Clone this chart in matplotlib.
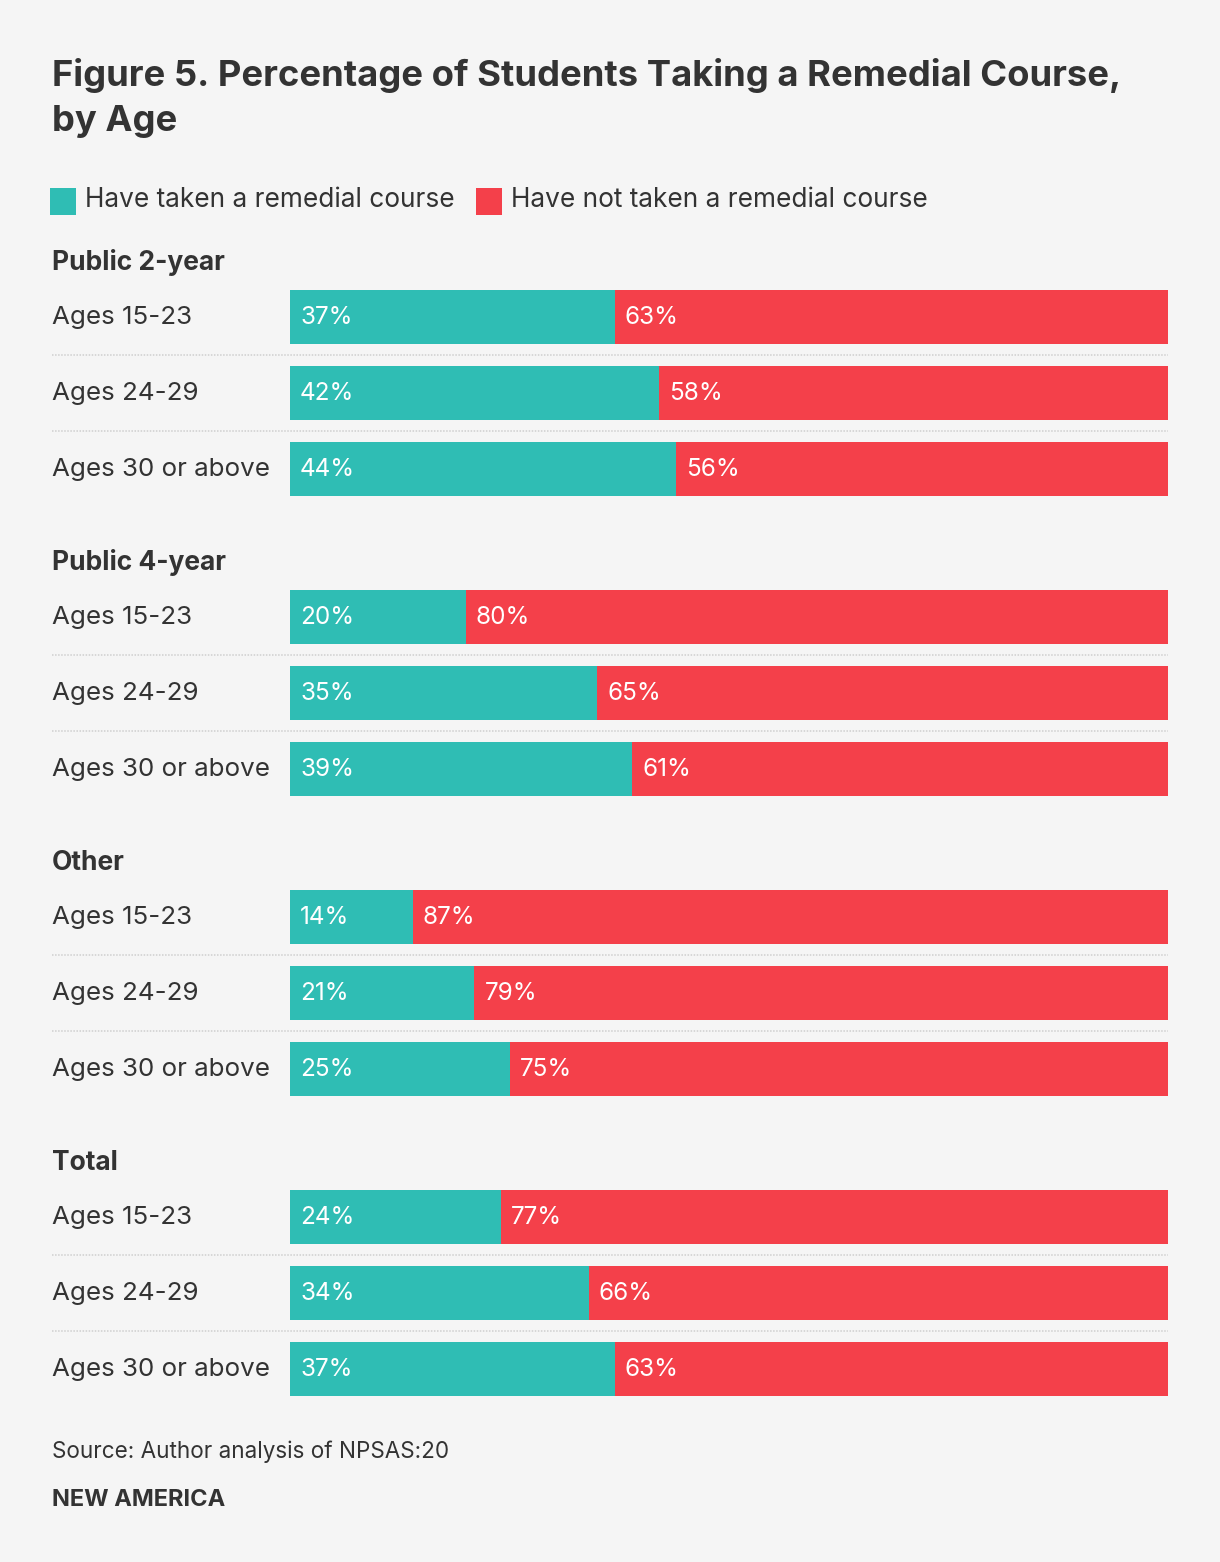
import matplotlib
matplotlib.use("Agg")
import matplotlib.pyplot as plt
from matplotlib.transforms import Affine2D, blended_transform_factory
from matplotlib.patches import Rectangle

# ---------------- data ----------------
groups = ["Public 2-year", "Public 4-year", "Other", "Total"]
age_labels = ["Ages 15-23", "Ages 24-29", "Ages 30 or above"]
taken = [[37, 42, 44], [20, 35, 39], [14, 21, 25], [24, 34, 37]]
not_taken = [[63, 58, 56], [80, 65, 61], [87, 79, 75], [77, 66, 63]]
legend_labels = ["Have taken a remedial course", "Have not taken a remedial course"]
title_lines = ["Figure 5. Percentage of Students Taking a Remedial Course,", "by Age"]
source = "Source: Author analysis of NPSAS:20"
brand = "NEW AMERICA"

# ---------------- style ----------------
BG = "#f5f5f5"
TEAL = "#2fbdb4"
RED = "#f4404a"
TXT = "#333333"
SEP = "#cfcfcf"
FONT = ["Inter", "DejaVu Sans"]
plt.rcParams["font.family"] = FONT

W, H = 1220, 1562
fig = plt.figure(figsize=(W / 100, H / 100), dpi=100, facecolor=BG)
PX = Affine2D().scale(1, -1).translate(0, H)  # pixel coords from top-left

ROW = 76.0           # px per row
STEP = 300.0 / ROW   # group step in row units
BAR_H = 54.0 / ROW
left_px, right_px, top_px, bot_px = 290, 1168, 290, 1396

ax = fig.add_axes([left_px / W, 1 - bot_px / H, (right_px - left_px) / W, (bot_px - top_px) / H])
ax.set_facecolor(BG)
n_groups = len(groups)
last_pos = (n_groups - 1) * STEP + (len(age_labels) - 1)
ax.set_xlim(0, 100)
ax.set_ylim(last_pos + BAR_H / 2, -BAR_H / 2)
ax.axis("off")

lab_tr = blended_transform_factory(PX, ax.transData)
BASE_OFF = 7 / ROW

for g, grp in enumerate(groups):
    base = g * STEP
    ax.text(52, base - 47 / ROW, grp, transform=lab_tr, fontsize=19, fontweight="bold",
            color=TXT, va="baseline", ha="left")
    for r, age in enumerate(age_labels):
        y = base + r
        t = taken[g][r]
        n = not_taken[g][r]
        ax.barh(y, t, height=BAR_H, left=0, color=TEAL, linewidth=0)
        ax.barh(y, n, height=BAR_H, left=t, color=RED, linewidth=0)
        ax.text(52, y + BASE_OFF, age, transform=lab_tr, fontsize=18.7, color=TXT,
                va="baseline", ha="left")
        ax.annotate(f"{t}%", (0, y + BASE_OFF), xytext=(7.2, 0), textcoords="offset points",
                    fontsize=17.5, color="white", va="baseline", ha="left")
        ax.annotate(f"{n}%", (t, y + BASE_OFF), xytext=(7.2, 0), textcoords="offset points",
                    fontsize=17.5, color="white", va="baseline", ha="left")
        if r < len(age_labels) - 1:
            ax.plot([52, right_px], [y + 0.5, y + 0.5], transform=lab_tr, color=SEP,
                    lw=1.1, linestyle=(0, (1, 1)), clip_on=False, solid_capstyle="butt")

# title
for i, line in enumerate(title_lines):
    fig.text(52, 86 + 45 * i, line, transform=PX, fontsize=26.2, fontweight="bold", color=TXT,
             va="baseline", ha="left")

# legend
renderer = fig.canvas.get_renderer()
x = 50
for lab, col in zip(legend_labels, [TEAL, RED]):
    fig.patches.append(Rectangle((x, 188), 26, 27, transform=PX, facecolor=col,
                                 edgecolor="none"))
    t = fig.text(x + 35, 207, lab, transform=PX, fontsize=18.9, color=TXT,
                 va="baseline", ha="left")
    bb = t.get_window_extent(renderer)
    x = bb.x1 + 21

# footer
fig.text(52, 1458, source, transform=PX, fontsize=16.2, color=TXT, va="baseline", ha="left")
fig.text(52, 1506, brand, transform=PX, fontsize=17, fontweight="bold", color=TXT,
         va="baseline", ha="left")

fig.savefig("out.png", dpi=100, facecolor=BG)
